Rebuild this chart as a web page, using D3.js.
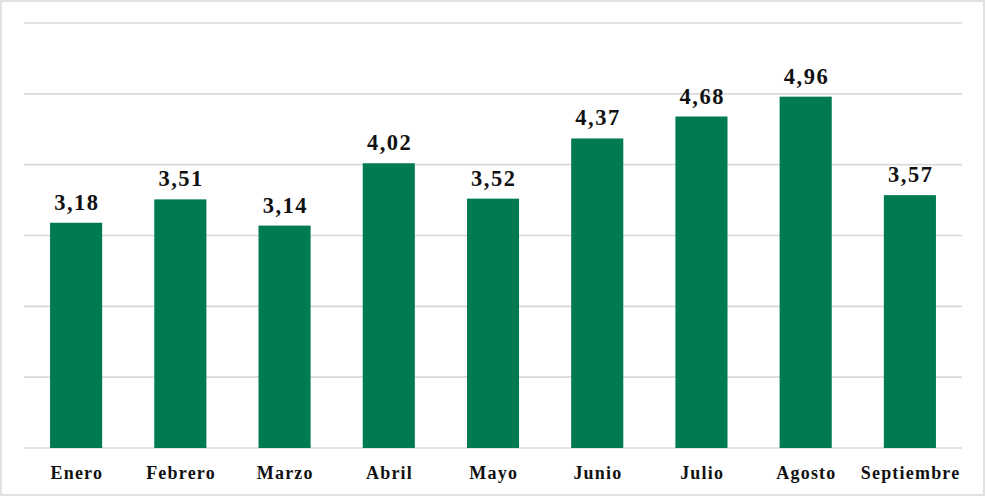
<!DOCTYPE html>
<html><head><meta charset="utf-8">
<script src="https://cdn.jsdelivr.net/npm/d3@7"></script>
<style>html,body{margin:0;padding:0;background:#fff;}svg{display:block;}</style>
</head><body>
<svg id="c" width="986" height="497"></svg>
<script>
const categories = ["Enero","Febrero","Marzo","Abril","Mayo","Junio","Julio","Agosto","Septiembre"];
const values = [3.18,3.51,3.14,4.02,3.52,4.37,4.68,4.96,3.57];
const yTicks = [0,1,2,3,4,5,6];

const svg = d3.select("#c");
const W = 986, H = 497;
const m = {left:24, right:24, top:23, bottom:49};
svg.append("rect").attr("x",1).attr("y",1).attr("width",983).attr("height",494)
  .attr("fill","#fff").attr("stroke","#d9d9d9").attr("stroke-width",1.5);

const x = d3.scaleBand().domain(categories).range([m.left, W - m.right]).paddingInner(0.5).paddingOuter(0.25);
const y = d3.scaleLinear().domain([0,6]).range([H - m.bottom, m.top]);

svg.append("g").selectAll("line").data(yTicks).join("line")
  .attr("x1", m.left).attr("x2", W - m.right)
  .attr("y1", d=>y(d)).attr("y2", d=>y(d))
  .attr("stroke","#d9d9d9").attr("stroke-width",1.6);

svg.append("g").selectAll("rect").data(values).join("rect")
  .attr("x",(d,i)=>x(categories[i])).attr("width",x.bandwidth())
  .attr("y",d=>y(d)).attr("height",d=>y(0)-y(d))
  .attr("fill","#007A52");

const fmt = d => d.toFixed(2).replace(".", ",");
svg.append("g").selectAll("text").data(values).join("text")
  .attr("x",(d,i)=>x(categories[i]) + x.bandwidth()/2 + 0.8)
  .attr("y",d=>y(d)-13)
  .attr("text-anchor","middle")
  .attr("font-family","'Liberation Serif', serif").attr("font-weight","bold")
  .attr("font-size",22.5).attr("letter-spacing",1.5).attr("fill","#111")
  .text(fmt);

const xAxis = svg.append("g").attr("transform",`translate(0,${H - m.bottom})`)
  .call(d3.axisBottom(x).tickSize(0).tickPadding(0));
xAxis.select(".domain").remove();
xAxis.selectAll("text").attr("y",31).attr("dy",0).attr("dx",0.7)
  .attr("font-family","'Liberation Serif', serif").attr("font-weight","bold")
  .attr("font-size",18).attr("letter-spacing",1.2).attr("fill","#111");
</script>
</body></html>
